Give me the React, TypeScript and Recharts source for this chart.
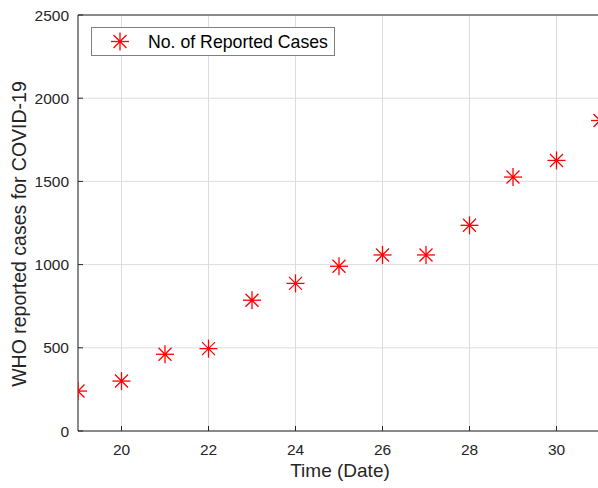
import { ScatterChart, Scatter, XAxis, YAxis, CartesianGrid } from "recharts"

// March dates and WHO reported cases
const days = [19, 20, 21, 22, 23, 24, 25, 26, 27, 28, 29, 30, 31]
const cases = [240, 300, 461, 495, 786, 887, 990, 1058, 1058, 1236, 1526, 1626, 1866]
const xTicks = [20, 22, 24, 26, 28, 30]
const yTicks = [0, 500, 1000, 1500, 2000, 2500]

const data = days.map((d, i) => ({ day: d, cases: cases[i] }))

const RED = "#ff0000"
const AXIS = "#262626"
const FONT = "'Liberation Sans', Arial, sans-serif"

// matlab style '*' marker
function Star({ cx, cy }: any) {
  if (cx == null || cy == null) return null
  const r = 9
  const d = 6.5
  return (
    <g stroke={RED} strokeWidth={1.3}>
      <line x1={cx - r} y1={cy} x2={cx + r} y2={cy} />
      <line x1={cx} y1={cy - r} x2={cx} y2={cy + r} />
      <line x1={cx - d} y1={cy - d} x2={cx + d} y2={cy + d} />
      <line x1={cx - d} y1={cy + d} x2={cx + d} y2={cy - d} />
      <circle cx={cx} cy={cy} r={1.5} fill={RED} stroke="none" />
    </g>
  )
}

function LegendBox() {
  return (
    <svg width={245} height={29} style={{ display: "block" }}>
      <rect x={0.5} y={0.5} width={243} height={28} fill="#fff" stroke="#808080" />
      <Star cx={29} cy={14.5} />
      <text x={57} y={21} fontSize={17.7} fill="#000" fontFamily={FONT}>
        No. of Reported Cases
      </text>
    </svg>
  )
}

export default function App() {
  return (
    <div
      style={{
        position: "absolute",
        left: 0,
        top: 0,
        width: 598,
        height: 488,
        overflow: "hidden",
        background: "#fff",
        fontFamily: FONT,
      }}
    >
      <ScatterChart
        width={620}
        height={488}
        data={data}
        margin={{ top: 14, right: 20, bottom: 0, left: 18 }}
      >
        <CartesianGrid stroke="#dedede" strokeWidth={1} />
        <XAxis
          xAxisId="top"
          orientation="top"
          type="number"
          dataKey="day"
          domain={[19, 31]}
          ticks={xTicks}
          height={1}
          tick={false}
          tickSize={-5}
          stroke={AXIS}
          allowDataOverflow
        />
        <XAxis
          type="number"
          dataKey="day"
          domain={[19, 31]}
          ticks={xTicks}
          height={57}
          tickSize={-5}
          tickMargin={18}
          stroke={AXIS}
          tick={{ fill: AXIS, fontSize: 15.5, fontFamily: FONT }}
          allowDataOverflow
          label={{
            content: () => (
              <text x={340} y={477} textAnchor="middle" fontSize={19} fill={AXIS} fontFamily={FONT}>
                Time (Date)
              </text>
            ),
          }}
        />
        <YAxis
          type="number"
          dataKey="cases"
          domain={[0, 2500]}
          ticks={yTicks}
          width={60}
          tickSize={-5}
          tickMargin={14}
          stroke={AXIS}
          tick={{ fill: AXIS, fontSize: 15.5, fontFamily: FONT }}
          allowDataOverflow
          label={{
            content: () => (
              <text
                x={25.5}
                y={234}
                transform="rotate(-90 25.5 234)"
                textAnchor="middle"
                fontSize={19.5}
                fill={AXIS}
                fontFamily={FONT}
              >
                WHO reported cases for COVID-19
              </text>
            ),
          }}
        />
        <Scatter
          name="No. of Reported Cases"
          dataKey="cases"
          fill={RED}
          shape={<Star />}
          isAnimationActive={false}
        />
      </ScatterChart>
      <div style={{ position: "absolute", left: 91, top: 27 }}>
        <LegendBox />
      </div>
    </div>
  )
}
